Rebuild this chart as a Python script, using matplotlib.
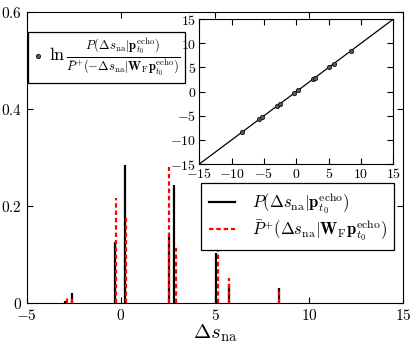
import matplotlib
matplotlib.use('Agg')
import matplotlib.pyplot as plt

plt.rcParams['mathtext.fontset'] = 'cm'
plt.rcParams['font.family'] = 'serif'
plt.rcParams['font.serif'] = ['DejaVu Serif']
plt.rcParams['axes.formatter.use_mathtext'] = True

# black bars: P(ds | p_echo)
xs_p = [-2.98, -2.58, -0.33, 0.22, 2.55, 2.83, 5.07, 5.72, 8.38]
hs_p = [0.004, 0.021, 0.126, 0.285, 0.142, 0.243, 0.104, 0.040, 0.030]
# red dashed bars: Pbar+(ds | W_F p_echo)
xs_r = [-2.88, -2.58, -0.26, 0.30, 2.55, 2.93, 5.16, 5.75, 8.38]
hs_r = [0.010, 0.012, 0.217, 0.176, 0.281, 0.113, 0.109, 0.052, 0.026]
# inset: ln ratio vs ds
ins_x = [-8.45, -5.77, -5.26, -3.0, -2.55, -0.35, 0.22, 2.58, 2.88, 5.08, 5.75, 8.4]
ins_y = [-8.4, -5.75, -5.25, -3.0, -2.55, -0.3, 0.25, 2.6, 2.9, 5.1, 5.75, 8.4]

lab_p = r'$P(\Delta s_{\rm na}|\mathbf{p}_{t_0}^{\rm echo})$'
lab_r = r'$\bar{P}^{+}(\Delta s_{\rm na}|\mathbf{W}_{\rm F}\mathbf{p}_{t_0}^{\rm echo})$'
lab_s = (r'$\ln\frac{P(\Delta s_{\rm na}|\mathbf{p}_{t_0}^{\rm echo})}'
         r'{\bar{P}^{+}(-\Delta s_{\rm na}|\mathbf{W}_{\rm F}\mathbf{p}_{t_0}^{\rm echo})}$')

fig = plt.figure(figsize=(4.15, 3.47), dpi=100)
ax = fig.add_axes([0.064, 0.127, 0.908, 0.838])

ax.vlines(xs_p, 0, hs_p, colors='k', lw=1.6)
ax.vlines(xs_r, 0, hs_r, colors='r', lw=1.6, linestyles=(0, (2, 1.3)))
ax.set_xlim(-5, 15)
ax.set_ylim(0, 0.6)
ax.set_xticks([-5, 0, 5, 10, 15])
ax.set_xticklabels(['$-5$', '$0$', '$5$', '$10$', '$15$'])
ax.set_yticks([0, 0.2, 0.4, 0.6])
ax.set_yticklabels(['$0$', '$0.2$', '$0.4$', '$0.6$'])
ax.tick_params(direction='in', top=True, right=True, length=4, labelsize=11)
ax.set_xlabel(r'$\Delta s_{\rm na}$', fontsize=15, labelpad=0)

h1, = ax.plot([], [], color='k', lw=1.6)
h2, = ax.plot([], [], color='r', lw=1.6, ls=(0, (2, 1.3)))
leg1 = ax.legend([h1, h2], [lab_p, lab_r], loc='upper right',
                 bbox_to_anchor=(0.976, 0.412), borderaxespad=0,
                 fancybox=False, edgecolor='k', framealpha=1,
                 fontsize=12, handlelength=1.6, handletextpad=1.0,
                 borderpad=0.45, labelspacing=0.05)
leg1.get_frame().set_linewidth(0.9)

ins = fig.add_axes([0.480, 0.527, 0.468, 0.418])
ins.plot([-15, 15], [-15, 15], color='k', lw=0.9)
sc = ins.scatter(ins_x, ins_y, s=10, color='0.35', edgecolors='k', linewidths=0.5, zorder=3)
ins.set_xlim(-15, 15)
ins.set_ylim(-15, 15)
ticks = [-15, -10, -5, 0, 5, 10, 15]
tl = ['$%d$' % t for t in ticks]
ins.set_xticks(ticks)
ins.set_xticklabels(tl)
ins.set_yticks(ticks)
ins.set_yticklabels(tl)
ins.tick_params(direction='in', top=True, right=True, length=4, labelsize=10, pad=2)

leg2 = ax.legend([sc], [lab_s], loc='upper left', bbox_to_anchor=(0.005, 0.932),
                 borderaxespad=0, fancybox=False, edgecolor='k', framealpha=1,
                 fontsize=13, scatterpoints=1, handlelength=0.6,
                 handletextpad=0.3, borderpad=0.25)
leg2.get_frame().set_linewidth(0.9)
ax.add_artist(leg1)

fig.savefig('out.png', dpi=100)
